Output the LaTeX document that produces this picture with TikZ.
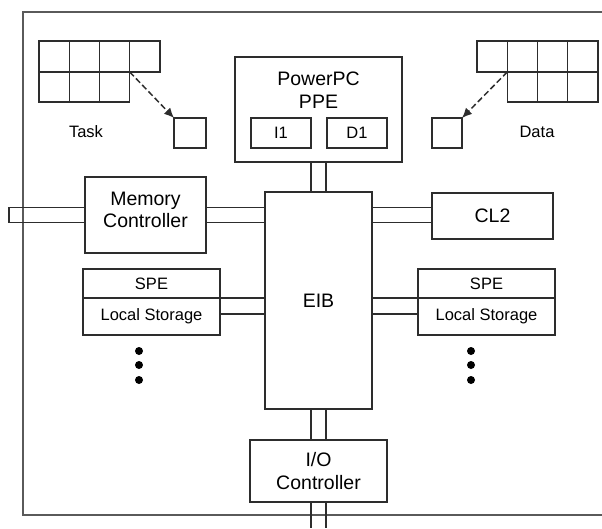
\documentclass[tikz,border=0pt]{standalone}
\usepackage{fontspec}
\setmainfont{Liberation Sans}
\usetikzlibrary{arrows.meta,positioning,calc}
\definecolor{lineblack}{RGB}{45,45,45}
\definecolor{framegray}{RGB}{90,90,90}

\begin{document}
\begin{tikzpicture}[
        x=1pt, y=-1pt,
        box/.style={draw=lineblack, line width=1.4pt, inner sep=0pt, outer sep=0pt},
        bigtxt/.style={font=\fontsize{19.5}{22.5}\selectfont, align=center, inner sep=0pt},
        smalltxt/.style={font=\fontsize{16.5}{19}\selectfont, align=center, inner sep=0pt},
        bus/.style={draw=lineblack, line width=1.4pt},
        cell/.style={draw=lineblack, line width=1.4pt},
        dashedarrow/.style={draw=lineblack, line width=1.5pt, dash pattern=on 6pt off 3pt, -{Latex[length=10pt,width=9pt]}},
        dot/.style={circle, fill=black, inner sep=0pt, minimum size=8pt}
    ]
        \useasboundingbox (0,0) rectangle (602,528);

        % Frame (right side is cut off)
        \draw[framegray, line width=1.8pt] (602,12) -- (23,12) -- (23,515) -- (602,515);

        % Task queue
        \foreach \i in {0,...,3} {
            \draw[cell] (39+30.25*\i,41) rectangle (69.25+30.25*\i,72);
        }
        \foreach \i in {0,...,2} {
            \draw[cell] (39+30.25*\i,72) rectangle (69.25+30.25*\i,102);
        }
        \coordinate (taskcorner) at (129.75,72);
        \node[box, minimum width=32pt, minimum height=30pt] (taskbuf) at (190,133) {};
        \node[smalltxt] (tasklabel) at (86,132) {Task};
        \draw[dashedarrow] (taskcorner) -- (taskbuf.north west);

        % Data queue
        \foreach \i in {0,...,3} {
            \draw[cell] (477+30.25*\i,41) rectangle (507.25+30.25*\i,72);
        }
        \foreach \i in {1,...,3} {
            \draw[cell] (477+30.25*\i,72) rectangle (507.25+30.25*\i,102);
        }
        \coordinate (datacorner) at (507.25,72);
        \node[box, minimum width=30pt, minimum height=30pt] (databuf) at (447,133) {};
        \node[smalltxt] (datalabel) at (537,132) {Data};
        \draw[dashedarrow] (datacorner) -- (databuf.north east);

        % PowerPC PPE
        \node[box, minimum width=167pt, minimum height=105pt] (ppe) at (318.5,109.5) {};
        \node[bigtxt] (ppetxt) at (318.5,90) {PowerPC\\PPE};
        \node[box, minimum width=60pt, minimum height=30pt, smalltxt] (i1) at (281,133) {I1};
        \node[box, minimum width=60pt, minimum height=30pt, smalltxt] (d1) at (357,133) {D1};

        % EIB
        \node[box, minimum width=107pt, minimum height=217pt, bigtxt] (eib) at (318.5,300.5) {EIB};

        % Memory Controller
        \node[box, minimum width=121pt, minimum height=76pt] (mc) at (145.5,215) {};
        \node[bigtxt] (mctxt) at (145.5,210) {Memory\\Controller};
        \coordinate (memout) at (9,215);

        % CL2
        \node[box, minimum width=121pt, minimum height=46pt, bigtxt] (cl2) at (492.5,216) {CL2};

        % SPE left
        \node[box, minimum width=137pt, minimum height=29pt, smalltxt] (speL) at (151.5,283.5) {SPE};
        \node[box, minimum width=137pt, minimum height=37pt, smalltxt] (lsL) at (151.5,316.5) {Local Storage};

        % SPE right
        \node[box, minimum width=137pt, minimum height=29pt, smalltxt] (speR) at (486.5,283.5) {SPE};
        \node[box, minimum width=137pt, minimum height=37pt, smalltxt] (lsR) at (486.5,316.5) {Local Storage};

        % More SPEs
        \foreach \y [count=\n] in {351,365,380} {
            \node[dot] (dotL\n) at (139,\y) {};
            \node[dot] (dotR\n) at (471,\y) {};
        }

        % I/O Controller
        \node[box, minimum width=137pt, minimum height=62pt, bigtxt] (io) at (318.5,471) {I/O\\Controller};
        \coordinate (ioout) at (318.5,528);

        % Buses
        \foreach \s in {-7.5,7.5} {
            \draw[bus] ([xshift=\s pt]ppe.south) -- ([xshift=\s pt]eib.north);
            \draw[bus] ([xshift=\s pt]eib.south) -- ([xshift=\s pt]io.north);
            \draw[bus] ([xshift=\s pt]io.south) -- ([xshift=\s pt]ioout);
            \draw[bus] ([yshift=\s pt]mc.east) -- ([yshift=\s pt]mc.east -| eib.west);
            \draw[bus] ([yshift=\s pt]mc.east -| eib.east) -- ([yshift=\s pt]mc.east -| cl2.west);
        }
        \draw[bus] ([yshift=7.5pt]mc.west) -- ([yshift=7.5pt]memout) -- ([yshift=-7.5pt]memout) -- ([yshift=-7.5pt]mc.west);
        \draw[bus] (lsL.north east) -- (lsL.north east -| eib.west);
        \draw[bus] ([yshift=-16pt]lsL.north east) -- ([yshift=-16pt]lsL.north east -| eib.west);
        \draw[bus] (lsR.north west -| eib.east) -- (lsR.north west);
        \draw[bus] ([yshift=-16pt]lsR.north west -| eib.east) -- ([yshift=-16pt]lsR.north west);

    \end{tikzpicture}
\end{document}
